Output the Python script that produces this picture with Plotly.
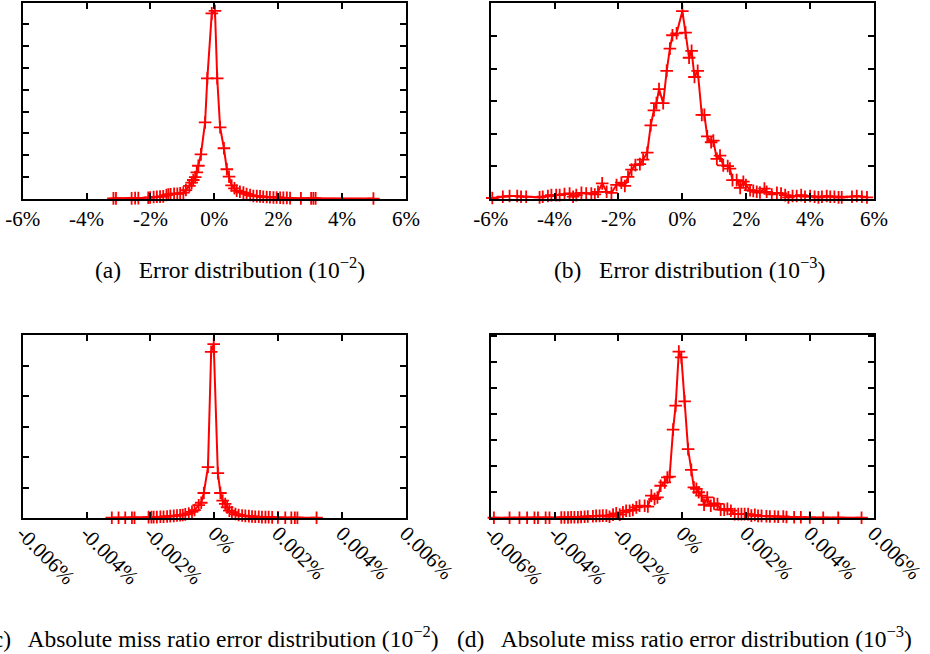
import plotly.graph_objects as go
import numpy as np

# ---------------- data ----------------
# (a) Error distribution (1e-2): x in %, y in axis units
A_x = [-3.16, -3.08, -2.59, -2.48, -2.38, -2.07, -2.01, -1.90, -1.80, -1.70, -1.60, -1.50, -1.44, -1.37, -1.26,
       -1.16, -1.07, -0.97, -0.89, -0.78, -0.71, -0.66, -0.60, -0.55, -0.50, -0.42, -0.29, -0.22, -0.08,
       0.02, 0.09, 0.18, 0.30, 0.39, 0.46, 0.54, 0.63, 0.70, 0.80, 0.91, 1.01, 1.12, 1.22, 1.33,
       1.43, 1.53, 1.64, 1.74, 1.85, 1.95, 2.06, 2.16, 2.27, 2.37, 2.71, 3.03, 3.10, 3.17, 4.98]
A_y = [0.03, 0.03, 0.03, 0.04, 0.04, 0.06, 0.07, 0.09, 0.10, 0.11, 0.12, 0.18, 0.20, 0.22, 0.24,
       0.24, 0.26, 0.29, 0.41, 0.60, 0.75, 0.87, 1.00, 1.22, 1.52, 2.04, 3.5, 5.52, 8.49,
       8.6, 5.52, 3.28, 2.32, 1.36, 1.02, 0.62, 0.49, 0.38, 0.33, 0.29, 0.23, 0.18, 0.14, 0.13,
       0.12, 0.10, 0.09, 0.08, 0.07, 0.07, 0.06, 0.05, 0.05, 0.04, 0.03, 0.03, 0.03, 0.03, 0.02]

# (b) Error distribution (1e-3)
B_x = [-5.95, -5.62, -5.41, -5.17, -5.05, -4.89, -4.47, -4.37, -4.21, -4.10, -3.95, -3.84, -3.69, -3.53,
       -3.42, -3.32, -3.16, -3.01, -2.85, -2.74, -2.64, -2.51, -2.37, -2.22, -2.06, -1.91, -1.80, -1.70,
       -1.59, -1.47, -1.33, -1.23, -1.10, -0.99, -0.89, -0.81, -0.73, -0.60, -0.49, -0.39, -0.31, -0.18,
       0.00, 0.10, 0.21, 0.29, 0.38, 0.48, 0.61, 0.69, 0.78, 0.90, 0.97, 1.08, 1.18, 1.28, 1.42, 1.49,
       1.57, 1.70, 1.81, 1.91, 1.99, 2.12, 2.22, 2.33, 2.43, 2.57, 2.64, 2.80, 2.96, 3.09, 3.22, 3.32,
       3.45, 3.58, 3.72, 3.84, 4.00, 4.14, 4.26, 4.37, 4.52, 4.63, 4.76, 4.89, 4.99, 5.31, 5.46, 5.62, 5.78]
B_y = [0.03, 0.07, 0.09, 0.09, 0.07, 0.07, 0.05, 0.07, 0.09, 0.12, 0.12, 0.12, 0.15, 0.17,
       0.07, 0.12, 0.19, 0.17, 0.17, 0.14, 0.22, 0.48, 0.22, 0.19, 0.43, 0.50, 0.40, 0.68,
       0.90, 1.04, 1.07, 1.21, 1.42, 2.26, 2.72, 2.94, 3.37, 2.94, 3.93, 4.61, 5.02, 5.08,
       5.76, 5.10, 4.33, 4.54, 3.74, 3.93, 2.58, 2.58, 1.92, 1.74, 1.79, 1.23, 1.33, 1.03, 1.01, 0.93,
       0.58, 0.58, 0.34, 0.53, 0.43, 0.27, 0.25, 0.22, 0.20, 0.32, 0.22, 0.14, 0.19, 0.17, 0.12, 0.05,
       0.09, 0.09, 0.12, 0.07, 0.09, 0.07, 0.05, 0.07, 0.09, 0.07, 0.07, 0.05, 0.05, 0.07, 0.09, 0.07, 0.05]

# (c) Absolute miss ratio error distribution (1e-2): x in thousandths of a percent
C_x_milli = [-3.21, -3.00, -2.79, -2.58, -2.50, -2.06, -1.97, -1.90, -1.80, -1.69, -1.59, -1.48, -1.38,
             -1.27, -1.17, -1.07, -0.99, -0.91, -0.80, -0.70, -0.62, -0.49, -0.41, -0.33, -0.20, -0.10,
             -0.02, 0.11, 0.19, 0.26, 0.34, 0.40, 0.47, 0.55, 0.66, 0.76, 0.87, 0.97, 1.08, 1.18, 1.28,
             1.39, 1.49, 1.60, 1.70, 1.81, 1.99, 2.22, 2.41, 2.52, 2.60, 3.20]
C_y = [0.01, 0.01, 0.01, 0.01, 0.01, 0.03, 0.03, 0.03, 0.03, 0.04, 0.04, 0.05, 0.06,
       0.07, 0.08, 0.09, 0.10, 0.12, 0.15, 0.20, 0.26, 0.42, 0.50, 0.82, 1.67, 5.45,
       5.70, 1.47, 0.82, 0.57, 0.46, 0.35, 0.24, 0.19, 0.13, 0.10, 0.08, 0.07, 0.06, 0.05, 0.04,
       0.04, 0.03, 0.03, 0.03, 0.02, 0.02, 0.01, 0.01, 0.01, 0.01, 0.01]

# (d) Absolute miss ratio error distribution (1e-3)
D_x_milli = [-5.90, -5.41, -5.10, -4.86, -4.63, -4.52, -4.28, -4.16, -3.79, -3.69, -3.58, -3.48, -3.38,
             -3.27, -3.17, -3.06, -2.96, -2.80, -2.70, -2.59, -2.49, -2.38, -2.28, -2.17, -2.07, -1.96,
             -1.86, -1.76, -1.65, -1.55, -1.44, -1.34, -1.18, -1.08, -0.97, -0.87, -0.78, -0.68, -0.55,
             -0.47, -0.40, -0.29, -0.21, -0.11, -0.03, 0.07, 0.18, 0.28, 0.36, 0.44, 0.51, 0.60, 0.68,
             0.78, 0.89, 0.99, 1.10, 1.20, 1.31, 1.41, 1.52, 1.64, 1.75, 1.85, 1.95, 2.06, 2.16, 2.27,
             2.37, 2.48, 2.63, 2.74, 2.89, 3.00, 3.16, 3.26, 3.50, 3.71, 3.99, 4.41, 4.88, 5.61]
D_y = [0.01, 0.01, 0.01, 0.01, 0.01, 0.01, 0.01, 0.01, 0.02, 0.02, 0.02, 0.03, 0.03,
       0.03, 0.04, 0.05, 0.06, 0.07, 0.08, 0.08, 0.09, 0.09, 0.05, 0.13, 0.18, 0.13,
       0.22, 0.28, 0.28, 0.31, 0.41, 0.47, 0.47, 0.44, 0.86, 0.73, 0.79, 1.24, 1.37,
       1.56, 1.59, 3.40, 4.32, 6.40, 6.18, 4.49, 2.65, 1.85, 1.18, 1.12, 0.99, 0.86, 0.51,
       0.79, 0.47, 0.56, 0.54, 0.32, 0.32, 0.35, 0.28, 0.15, 0.15, 0.15, 0.15, 0.15, 0.09, 0.12,
       0.08, 0.08, 0.07, 0.06, 0.06, 0.05, 0.06, 0.04, 0.03, 0.03, 0.02, 0.01, 0.01, 0.01]

pct_ticks = [-6, -4, -2, 0, 2, 4, 6]
pct_labels = ["-6%", "-4%", "-2%", "0%", "2%", "4%", "6%"]
small_ticks = [-0.006, -0.004, -0.002, 0, 0.002, 0.004, 0.006]
small_labels = ["-0.006%", "-0.004%", "-0.002%", "0%", "0.002%", "0.004%", "0.006%"]

captions = ["(a)\u2002 Error distribution (10<sup>\u22122</sup>)",
            "(b)\u2002 Error distribution (10<sup>\u22123</sup>)",
            "(c)\u2002 Absolute miss ratio error distribution (10<sup>\u22122</sup>)",
            "(d)\u2002 Absolute miss ratio error distribution (10<sup>\u22123</sup>)"]

# ---------------- layout helpers ----------------
W, H = 930, 654
FONT = "Liberation Serif"

def px_x(a, b):
    return [a / W, b / W]

def px_y(top, bottom):
    return [1 - bottom / H, 1 - top / H]

panels = [
    dict(x=A_x, y=A_y, xd=px_x(22.7, 406), yd=px_y(3.3, 199), yr=8.95,
         tv=pct_ticks, tt=pct_labels, xr=[-6, 6], ang=0, so=0),
    dict(x=B_x, y=B_y, xd=px_x(490.7, 874), yd=px_y(3.3, 199), yr=6.0,
         tv=pct_ticks, tt=pct_labels, xr=[-6, 6], ang=0, so=0),
    dict(x=list(np.array(C_x_milli) * 1e-3), y=C_y, xd=px_x(22.7, 406), yd=px_y(335, 518), yr=6.0,
         tv=small_ticks, tt=small_labels, xr=[-0.006, 0.006], ang=45, so=-7),
    dict(x=list(np.array(D_x_milli) * 1e-3), y=D_y, xd=px_x(490.7, 874), yd=px_y(335, 518), yr=7.04,
         tv=small_ticks, tt=small_labels, xr=[-0.006, 0.006], ang=45, so=-7),
]

fig = go.Figure()
layout = dict(width=W, height=H, margin=dict(l=0, r=0, t=0, b=0, autoexpand=False),
              paper_bgcolor="white", plot_bgcolor="white", showlegend=False,
              font=dict(family=FONT, color="black", size=20))

for i, p in enumerate(panels, start=1):
    sfx = "" if i == 1 else str(i)
    fig.add_trace(go.Scatter(
        x=p["x"], y=p["y"], mode="lines+markers",
        line=dict(color="#ff0000", width=2),
        marker=dict(symbol="cross-thin", size=9, line=dict(color="#ff0000", width=1.8)),
        xaxis="x" + sfx, yaxis="y" + sfx, cliponaxis=False))
    layout["xaxis" + sfx] = dict(
        domain=p["xd"], range=p["xr"], anchor="y" + sfx, automargin=False,
        tickmode="array", tickvals=p["tv"], ticktext=p["tt"], tickangle=p["ang"],
        ticklabelstandoff=p["so"],
        ticks="inside", ticklen=6, tickwidth=1.5, tickcolor="black",
        showline=True, linewidth=2, linecolor="black", mirror="allticks",
        showgrid=False, zeroline=False,
        tickfont=dict(family=FONT, size=21, color="black"))
    layout["yaxis" + sfx] = dict(
        domain=p["yd"], range=[0, p["yr"]], anchor="x" + sfx, automargin=False,
        tickmode="linear", tick0=0, dtick=1, showticklabels=False,
        ticks="inside", ticklen=6, tickwidth=1.5, tickcolor="black",
        showline=True, linewidth=2, linecolor="black", mirror="allticks",
        showgrid=False, zeroline=False)

cap_pos = [(230, 268), (689, 268), (211, 637), (684, 637)]
anns = []
for text, (cx, cy) in zip(captions, cap_pos):
    anns.append(dict(text=text, x=cx / W, y=1 - cy / H, xref="paper", yref="paper",
                     xanchor="center", yanchor="middle", showarrow=False,
                     font=dict(family=FONT, size=23.5, color="black")))
layout["annotations"] = anns

fig.update_layout(**layout)
fig.write_html("out.html")
